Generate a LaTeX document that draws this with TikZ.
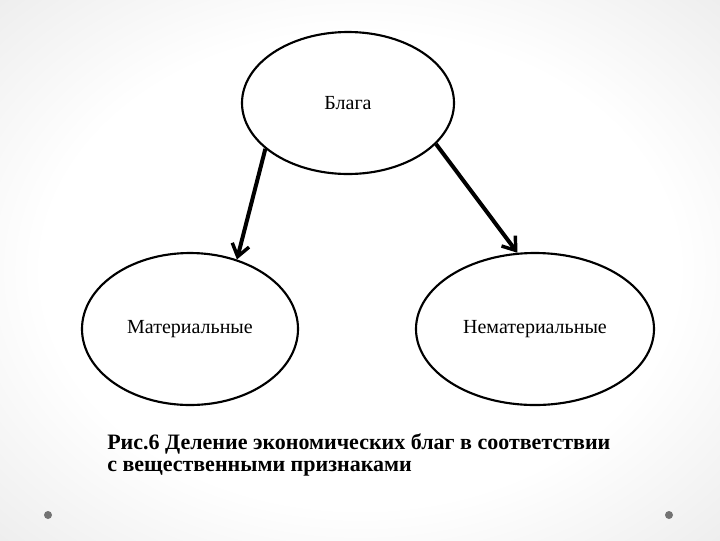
\documentclass[tikz,border=0pt]{standalone}
\usepackage{fontspec}
\setmainfont{Liberation Serif}
\usetikzlibrary{shapes.geometric,arrows.meta}
\pgfdeclareradialshading{vign}{\pgfpoint{0bp}{0bp}}{color(0bp)=(white); color(22bp)=(white); color(38bp)=(black!8); color(50bp)=(black!17)}
\tikzset{
  bubble/.style={ellipse, draw=black, line width=1.6pt, fill=white, inner sep=0pt, font=\fontsize{15}{17}\selectfont},
  link/.style={line width=3pt, -{Straight Barb[length=9pt,width=13pt,line width=2.6pt]}},
  dotmark/.style={circle, fill=black!55, inner sep=0pt, minimum size=6pt}
}
\begin{document}
\begin{tikzpicture}[x=0.75pt,y=-0.75pt]
\useasboundingbox (0,0) rectangle (720,540);
\shade[shading=vign] (0,0) rectangle (720,540);
\node[bubble, minimum width=159pt, minimum height=106.5pt] (blaga) at (348,103) {Блага};
\node[bubble, minimum width=162pt, minimum height=114pt] (mat) at (190,329) {Материальные};
\node[bubble, minimum width=178.5pt, minimum height=114pt] (nemat) at (535,329) {Нематериальные};
\draw[link] (blaga.209.8) -- (mat.56.8);
\draw[link] (blaga.335.5) -- (nemat.103.5);
\node[anchor=base west, align=left, inner sep=0pt, font=\fontsize{16.5}{16}\selectfont\bfseries] (cap) at (107,471) {Рис.6 Деление экономических благ в соответствии\\с вещественными признаками};
\node[dotmark] (d1) at (48,515) {};
\node[dotmark] (d2) at (669,515) {};
\end{tikzpicture}
\end{document}
